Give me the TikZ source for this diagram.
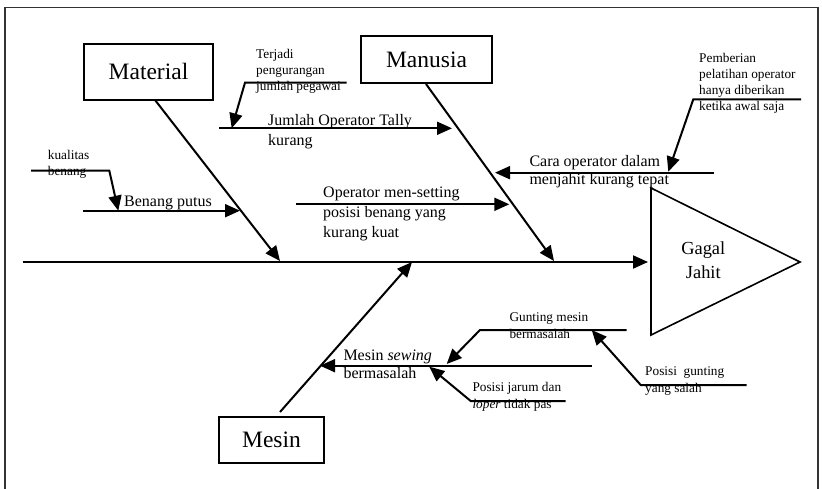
\documentclass[tikz,border=0pt]{standalone}
\usepackage{fontspec}
\setmainfont{Liberation Serif}
\usetikzlibrary{arrows.meta}
\tikzset{
  bone/.style={line width=2pt, -{Triangle[length=15pt,width=13pt]}},
  catbox/.style={draw, line width=1.6pt, inner sep=0pt, font=\fontsize{23.5}{28}\selectfont, text height=15.6pt, text depth=0pt},
  med/.style={font=\fontsize{16}{18.7}\selectfont, align=left, anchor=base west, inner sep=0pt},
  sml/.style={font=\fontsize{13.3}{16.2}\selectfont, align=left, anchor=base west, inner sep=0pt},
  frame/.style={line width=1.1pt, black!80},
}
\begin{document}
\begin{tikzpicture}[x=1pt, y=-1pt]
\useasboundingbox (0,0) rectangle (822,489);
\fill[white] (0,0) rectangle (822,489);
% frame
\coordinate (fA) at (5,489); \coordinate (fB) at (5,7.5);
\coordinate (fC) at (818,7.5); \coordinate (fD) at (818,489);
\draw[frame] (fA) -- (fB) -- (fC) -- (fD);

% category boxes
\node[catbox, minimum width=129pt, minimum height=56pt] (mat) at (148.5,72) {Material};
\node[catbox, minimum width=131pt, minimum height=47pt] (man) at (426.5,59.5) {Manusia};
\node[catbox, minimum width=105pt, minimum height=46pt] (mes) at (271.5,440) {Mesin};

% effect
\coordinate (tA) at (651,188); \coordinate (tB) at (651,335); \coordinate (tC) at (800,262);
\draw[line width=1.6pt, line join=miter] (tA) -- (tB) -- (tC) -- cycle;
\node[font=\fontsize{18.4}{24}\selectfont, align=center, anchor=base, inner sep=0pt] (eff) at (703.3,278) {Gagal\\Jahit};

% spine
\coordinate (spL) at (22.7,262); \coordinate (spR) at (648,262);
\draw[bone] (spL) -- (spR);

% main bones
\coordinate (matT) at (155,100); \coordinate (matH) at (280,261);
\draw[bone] (matT) -- (matH);
\coordinate (manT) at (426,84); \coordinate (manH) at (554,261);
\draw[bone] (manT) -- (manH);
\coordinate (mesT) at (280,412); \coordinate (mesH) at (412,262);
\draw[bone] (mesT) -- (mesH);

% Jumlah Operator Tally kurang
\coordinate (j0) at (219,128.3); \coordinate (j1) at (452,128.3);
\draw[bone] (j0) -- (j1);
\node[med, font=\fontsize{16}{19.5}\selectfont] (jt) at (268,145.5) {Jumlah Operator Tally\\kurang};
% Terjadi
\coordinate (t0) at (346.7,82.7); \coordinate (t1) at (245,82.7); \coordinate (tj) at (231.7,128.3);
\draw[bone] (t0) -- (t1) -- (tj);
\node[sml] (tt) at (256,91) {Terjadi\\pengurangan\\jumlah pegawai};

% Benang putus
\coordinate (b0) at (83.3,210.7); \coordinate (b1) at (240,210.7);
\draw[bone] (b0) -- (b1);
\node[med] (bt) at (124,207) {Benang putus};
% kualitas benang
\coordinate (k0) at (31,170.7); \coordinate (k1) at (109.3,170.7); \coordinate (kb) at (118.3,210.7);
\draw[bone] (k0) -- (k1) -- (kb);
\node[sml] (kt) at (47.7,176) {kualitas\\benang};

% Operator men-setting
\coordinate (o0) at (296,204.3); \coordinate (o1) at (509.3,204.3);
\draw[bone] (o0) -- (o1);
\node[med, font=\fontsize{16}{19.6}\selectfont] (ot) at (323,237.2) {Operator men-setting\\posisi benang yang\\kurang kuat};

% Cara operator
\coordinate (c0) at (714,172.7); \coordinate (c1) at (495,172.7);
\draw[bone] (c0) -- (c1);
\node[med, font=\fontsize{16}{18}\selectfont] (ct) at (529.3,184.7) {Cara operator dalam\\menjahit kurang tepat};
% Pemberian
\coordinate (p0) at (801,99.3); \coordinate (p1) at (693.3,99.3); \coordinate (pc) at (668.3,171.7);
\draw[bone] (p0) -- (p1) -- (pc);
\node[sml] (pt) at (699,110.9) {Pemberian\\pelatihan operator\\hanya diberikan\\ketika awal saja};

% Mesin sewing bermasalah
\coordinate (ms0) at (591.7,365.7); \coordinate (ms1) at (320,365.7);
\draw[bone] (ms0) -- (ms1);
\node[med, font=\fontsize{16}{18.3}\selectfont] (mst) at (343.3,378.3) {Mesin \textit{sewing}\\bermasalah};
% Gunting mesin
\coordinate (g0) at (626.7,330); \coordinate (g1) at (480,330); \coordinate (gm) at (446.7,364);
\draw[bone] (g0) -- (g1) -- (gm);
\node[sml, font=\fontsize{13.3}{17}\selectfont] (gt) at (509.3,338) {Gunting mesin\\bermasalah};
% Posisi jarum
\coordinate (pj0) at (565.7,401); \coordinate (pj1) at (470.7,401); \coordinate (pjm) at (429.3,366.7);
\draw[bone] (pj0) -- (pj1) -- (pjm);
\node[sml, font=\fontsize{13.3}{16.6}\selectfont] (pjt) at (472.3,408.3) {Posisi jarum dan\\\textit{loper} tidak pas};
% Posisi gunting
\coordinate (pg0) at (746.7,385); \coordinate (pg1) at (640.7,385); \coordinate (pgg) at (591.7,330);
\draw[bone] (pg0) -- (pg1) -- (pgg);
\node[sml, font=\fontsize{13.3}{17.5}\selectfont] (pgt) at (645,392.5) {Posisi\ \ gunting\\yang salah};
\end{tikzpicture}
\end{document}
